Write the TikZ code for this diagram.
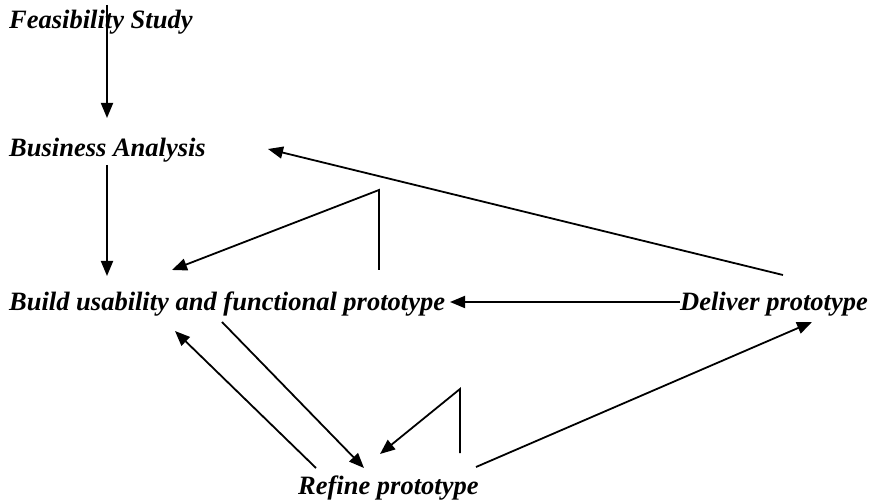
\documentclass[tikz,border=0pt]{standalone}
\usepackage{fontspec}
\setmainfont{Liberation Serif}
\usetikzlibrary{arrows.meta}
\begin{document}
\begin{tikzpicture}[x=1pt,y=-1pt,
  lbl/.style={anchor=base west,inner sep=0pt,font=\fontsize{26.5}{30}\selectfont\bfseries\itshape},
  conn/.style={line width=1.8pt},
  arr/.style={conn,-{Triangle[length=15pt,width=12pt]}}]
\useasboundingbox (0,0) rectangle (872,502);
\node[lbl] (fs) at (9,29) {Feasibility Study};
\node[lbl] (ba) at (9,157) {Business Analysis};
\node[lbl] (bu) at (9,311) {Build usability and functional prototype};
\node[lbl] (dp) at (680,311) {Deliver prototype};
\node[lbl] (rp) at (298,494) {Refine prototype};
% endpoints
\coordinate (a1s) at (107,5);   \coordinate (a1e) at (107,118);
\coordinate (a2s) at (107,165); \coordinate (a2e) at (107,276);
\coordinate (dbs) at (680,302); \coordinate (dbe) at (450,302);
\coordinate (dts) at (783,275); \coordinate (dte) at (268,149);
\coordinate (l1a) at (379,270); \coordinate (l1b) at (379,190); \coordinate (l1e) at (172,270);
\coordinate (brs) at (222,322); \coordinate (bre) at (364,468);
\coordinate (rbs) at (316,468); \coordinate (rbe) at (175,331);
\coordinate (l2a) at (460,453); \coordinate (l2b) at (460,389); \coordinate (l2e) at (380,454);
\coordinate (rds) at (476,467); \coordinate (rde) at (812,322);
\draw[arr] (a1s) -- (a1e);
\draw[arr] (a2s) -- (a2e);
\draw[arr] (dbs) -- (dbe);
\draw[arr] (dts) -- (dte);
\draw[arr] (l1a) -- (l1b) -- (l1e);
\draw[arr] (brs) -- (bre);
\draw[arr] (rbs) -- (rbe);
\draw[arr] (l2a) -- (l2b) -- (l2e);
\draw[arr] (rds) -- (rde);
\end{tikzpicture}
\end{document}
